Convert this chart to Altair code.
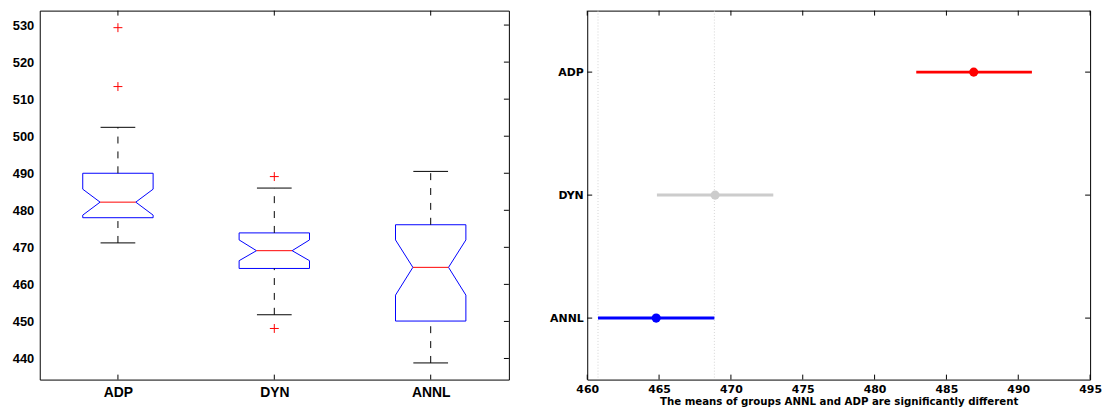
import altair as alt
import pandas as pd

# ---------------- data: left panel (notched box plots) ----------------
groups = ["ADP", "DYN", "ANNL"]
q1 = [478.0, 464.3, 450.1]
q3 = [490.0, 473.9, 476.1]
medians = [482.2, 469.1, 464.6]
notch_lo = [478.7, 466.4, 457.1]
notch_hi = [485.7, 472.0, 472.0]
whisker_lo = [471.2, 451.8, 438.8]
whisker_hi = [502.4, 486.0, 490.5]
outlier_group = ["ADP", "ADP", "DYN", "DYN"]
outlier_value = [529.3, 513.4, 489.1, 448.1]
left_y_ticks = [440, 450, 460, 470, 480, 490, 500, 510, 520, 530]

# ---------------- data: right panel (multiple comparison) ----------------
group_means = [486.9, 468.9, 464.8]
ci_lo = [482.9, 464.85, 460.75]
ci_hi = [490.95, 472.95, 468.85]
group_colors = ["#ff0000", "#cccccc", "#0000ff"]
right_x_ticks = [460, 465, 470, 475, 480, 485, 490, 495]
selected_group = "ANNL"
title_text = "The means of groups ANNL and ADP are significantly different"

# ---------------- styling constants ----------------
LW, LH = 473, 372
RW, RH = 507, 372
BW, NW, CW = 0.225, 0.114, 0.111  # half widths (category units)
TICK = 5

left_pos = {g: i + 1 for i, g in enumerate(groups)}
right_pos = {g: len(groups) - i for i, g in enumerate(groups)}

# box outline polygon table
dx = [-BW, -BW, -NW, -BW, -BW, BW, BW, NW, BW, BW, -BW]
rows = []
for i, g in enumerate(groups):
    ys = [q1[i], notch_lo[i], medians[i], notch_hi[i], q3[i],
          q3[i], notch_hi[i], medians[i], notch_lo[i], q1[i], q1[i]]
    for k, (d, yv) in enumerate(zip(dx, ys)):
        rows.append({"g": g, "o": k, "x": left_pos[g] + d, "y": yv})
box_df = pd.DataFrame(rows)

stats_df = pd.DataFrame({
    "g": groups,
    "p": [left_pos[g] for g in groups],
    "q1": q1, "q3": q3, "med": medians,
    "wlo": whisker_lo, "whi": whisker_hi,
})
stats_df["pl"] = stats_df["p"] - NW
stats_df["pr"] = stats_df["p"] + NW
stats_df["cl"] = stats_df["p"] - CW
stats_df["cr"] = stats_df["p"] + CW

out_df = pd.DataFrame({"p": [left_pos[g] for g in outlier_group], "v": outlier_value})
lyt_df = pd.DataFrame({"v": left_y_ticks})
lxt_df = pd.DataFrame({"p": [left_pos[g] for g in groups]})

def nested_label(mapping):
    expr = "''"
    for g, p in mapping.items():
        expr = f"datum.value == {p} ? '{g}' : ({expr})"
    return expr

lfont = "Liberation Sans"
lx = alt.X("x:Q", scale=alt.Scale(domain=[0.5, 3.5], nice=False, zero=False),
           axis=alt.Axis(values=[1, 2, 3], labelExpr=nested_label(left_pos), title=None,
                         ticks=False, grid=False, domain=False, labelFont=lfont,
                         labelFontWeight="bold", labelColor="black", labelFontSize=14,
                         labelPadding=6, labelFlush=False))
ly = alt.Y("y:Q", scale=alt.Scale(domain=[434.3, 533.9], nice=False, zero=False),
           axis=alt.Axis(values=left_y_ticks, title=None, ticks=False, grid=False,
                         domain=False, labelFont=lfont, labelFontWeight="bold",
                         labelColor="black", labelFontSize=13, labelPadding=6))

base_box = alt.Chart(box_df).mark_line(color="#0000ff", strokeWidth=1).encode(
    x=lx, y=ly, detail="g:N", order="o:Q")

sbase = alt.Chart(stats_df)
whisk_hi_m = sbase.mark_rule(color="black", strokeDash=[7, 8]).encode(
    x=alt.X("p:Q"), y=alt.Y("q3:Q"), y2="whi:Q")
whisk_lo_m = sbase.mark_rule(color="black", strokeDash=[7, 8]).encode(
    x=alt.X("p:Q"), y=alt.Y("wlo:Q"), y2="q1:Q")
cap_hi = sbase.mark_rule(color="black").encode(x="cl:Q", x2="cr:Q", y="whi:Q")
cap_lo = sbase.mark_rule(color="black").encode(x="cl:Q", x2="cr:Q", y="wlo:Q")
med_m = sbase.mark_rule(color="#ff0000").encode(x="pl:Q", x2="pr:Q", y="med:Q")

outl = alt.Chart(out_df).mark_point(
    shape="M-1,0L1,0M0,-1L0,1", color="#ff0000", size=81, strokeWidth=1,
    filled=False, opacity=1
).encode(x="p:Q", y="v:Q")

lt_right = alt.Chart(lyt_df).mark_rule(color="black").encode(
    y="v:Q", x=alt.value(LW - TICK), x2=alt.value(LW))
lt_top = alt.Chart(lxt_df).mark_rule(color="black").encode(
    x="p:Q", y=alt.value(0), y2=alt.value(TICK))
lt_bot = alt.Chart(lxt_df).mark_rule(color="black").encode(
    x="p:Q", y=alt.value(LH - TICK), y2=alt.value(LH))

left = alt.layer(base_box, whisk_hi_m, whisk_lo_m, cap_hi, cap_lo, med_m, outl,
                 lt_right, lt_top, lt_bot).properties(width=LW, height=LH)

# ---------------- right panel ----------------
ci_df = pd.DataFrame({
    "g": groups,
    "p": [right_pos[g] for g in groups],
    "m": group_means, "lo": ci_lo, "hi": ci_hi,
})
sel_i = groups.index(selected_group)
ref_df = pd.DataFrame({"x": [ci_lo[sel_i], ci_hi[sel_i]]})
rxt_df = pd.DataFrame({"x": right_x_ticks})
ryt_df = pd.DataFrame({"p": [right_pos[g] for g in groups]})

rfont = "DejaVu Sans"
rx = alt.X("lo:Q", scale=alt.Scale(domain=[460, 495], nice=False, zero=False),
           axis=alt.Axis(values=right_x_ticks, title=title_text, ticks=False, grid=False,
                         domain=False, labelFont=rfont, labelFontWeight="bold",
                         labelColor="black", labelFontSize=11, labelPadding=4,
                         labelFlush=False, titleFont=rfont, titleFontSize=10.3,
                         titleFontWeight="bold", titlePadding=2, titleColor="black"))
ry = alt.Y("p:Q", scale=alt.Scale(domain=[0.5, 3.5], nice=False, zero=False),
           axis=alt.Axis(values=[1, 2, 3], labelExpr=nested_label(right_pos), title=None,
                         ticks=False, grid=False, domain=False, labelFont=rfont,
                         labelFontWeight="bold", labelColor="black",
                         labelFontSize=11, labelPadding=4))
color_scale = alt.Scale(domain=groups, range=group_colors)

ref_lines = alt.Chart(ref_df).mark_rule(color="#d4d4d4", strokeDash=[1, 2]).encode(
    x=alt.X("x:Q"))
ci_lines = alt.Chart(ci_df).mark_rule(strokeWidth=3).encode(
    x=rx, x2="hi:Q", y=ry, color=alt.Color("g:N", scale=color_scale, legend=None))
ci_pts = alt.Chart(ci_df).mark_circle(size=85, opacity=1).encode(
    x="m:Q", y="p:Q", color=alt.Color("g:N", scale=color_scale, legend=None))

rt_left = alt.Chart(ryt_df).mark_rule(color="black").encode(
    y="p:Q", x=alt.value(0), x2=alt.value(TICK))
rt_right = alt.Chart(ryt_df).mark_rule(color="black").encode(
    y="p:Q", x=alt.value(RW - TICK), x2=alt.value(RW))
rt_top = alt.Chart(rxt_df).mark_rule(color="black").encode(
    x="x:Q", y=alt.value(0), y2=alt.value(TICK))
rt_bot = alt.Chart(rxt_df).mark_rule(color="black").encode(
    x="x:Q", y=alt.value(RH - TICK), y2=alt.value(RH))

right = alt.layer(ref_lines, ci_lines, ci_pts, rt_left, rt_right, rt_top, rt_bot
                  ).properties(width=RW, height=RH)

chart = alt.hconcat(left, right, spacing=39).properties(
    padding={"left": 3, "top": 0, "right": 0, "bottom": 0},
    background="white",
).configure_view(stroke="black", strokeWidth=1)

chart.save("out.html", embed_options={"renderer": "svg", "actions": False})
